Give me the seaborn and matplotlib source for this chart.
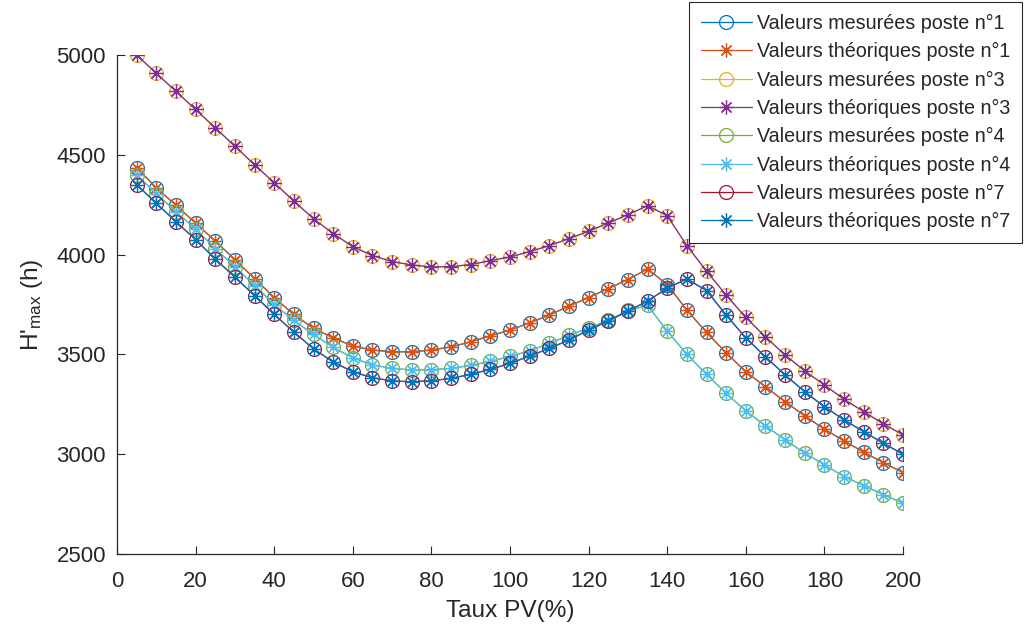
import pandas as pd
import matplotlib
matplotlib.use("Agg")
import matplotlib.pyplot as plt
import seaborn as sns

# Taux PV (%) en abscisse
taux_pv = [5, 10, 15, 20, 25, 30, 35, 40, 45, 50,
           55, 60, 65, 70, 75, 80, 85, 90, 95, 100,
           105, 110, 115, 120, 125, 130, 135, 140, 145, 150,
           155, 160, 165, 170, 175, 180, 185, 190, 195, 200]

mes_p1 = [4435, 4335, 4247, 4158, 4068, 3975, 3880, 3785, 3700, 3630,
          3583, 3542, 3522, 3513, 3513, 3522, 3538, 3563, 3593, 3622,
          3658, 3697, 3742, 3785, 3830, 3875, 3928, 3850, 3722, 3610,
          3508, 3413, 3338, 3263, 3192, 3125, 3067, 3010, 2958, 2908]
mes_p3 = [5000, 4908, 4818, 4727, 4635, 4543, 4450, 4360, 4268, 4180,
          4105, 4040, 3995, 3965, 3948, 3938, 3940, 3950, 3970, 3988,
          4015, 4045, 4080, 4117, 4158, 4200, 4245, 4195, 4045, 3917,
          3797, 3685, 3588, 3497, 3417, 3347, 3275, 3213, 3152, 3097]
mes_p4 = [4400, 4305, 4215, 4128, 4030, 3940, 3845, 3750, 3670, 3600,
          3535, 3483, 3447, 3430, 3422, 3423, 3430, 3445, 3465, 3490,
          3518, 3555, 3595, 3632, 3670, 3720, 3745, 3617, 3500, 3400,
          3305, 3217, 3142, 3072, 3005, 2947, 2888, 2843, 2797, 2755]
mes_p7 = [4350, 4257, 4165, 4075, 3978, 3887, 3795, 3700, 3612, 3528,
          3462, 3413, 3383, 3367, 3363, 3368, 3380, 3400, 3425, 3455,
          3492, 3530, 3572, 3622, 3667, 3717, 3767, 3832, 3878, 3820,
          3697, 3583, 3488, 3397, 3313, 3238, 3172, 3113, 3055, 3000]

# valeurs theoriques : superposees aux mesures sur la figure
theo_p1 = list(mes_p1)
theo_p3 = list(mes_p3)
theo_p4 = list(mes_p4)
theo_p7 = list(mes_p7)

sns.set_style("ticks")
plt.rcParams['font.family'] = ['Liberation Sans', 'DejaVu Sans']
plt.rcParams['mathtext.default'] = 'regular'

dark = '#262626'
star = (8, 2, 0)  # asterisque facon MATLAB

series = [
    ("Valeurs mesurées poste n°1", mes_p1, '#0072BD', 'o'),
    ("Valeurs théoriques poste n°1", theo_p1, '#D95319', star),
    ("Valeurs mesurées poste n°3", mes_p3, '#EDB120', 'o'),
    ("Valeurs théoriques poste n°3", theo_p3, '#7E2F8E', star),
    ("Valeurs mesurées poste n°4", mes_p4, '#77AC30', 'o'),
    ("Valeurs théoriques poste n°4", theo_p4, '#4DBEEE', star),
    ("Valeurs mesurées poste n°7", mes_p7, '#A2142F', 'o'),
    ("Valeurs théoriques poste n°7", theo_p7, '#0072BD', star),
]

fig = plt.figure(figsize=(10.25, 6.29), dpi=100)
ax = fig.add_axes([117 / 1025, 1 - 554 / 629, 786 / 1025, 499 / 629])

for label, vals, color, marker in series:
    df = pd.DataFrame({'taux': taux_pv, 'hmax': vals})
    sns.lineplot(data=df, x='taux', y='hmax', ax=ax, color=color, marker=marker,
                 markersize=10, mfc='none', mec=color, mew=0.9, lw=0.9, label=label)

ax.set_xlim(0, 200)
ax.set_ylim(2500, 5000)
ax.set_xticks(range(0, 201, 20))
ax.set_yticks(range(2500, 5001, 500))
sns.despine(ax=ax)
for side in ['left', 'bottom']:
    ax.spines[side].set_color(dark)
    ax.spines[side].set_linewidth(0.9)
ax.tick_params(direction='in', length=6, width=0.8, labelsize=16, colors=dark, pad=8)
ax.tick_params(axis='x', pad=12)

ax.set_xlabel('Taux PV(%)', fontsize=17.6, color=dark, labelpad=6)
ax.set_ylabel("H'$_{max}$ (h)", fontsize=17.6, color=dark, labelpad=8)

leg = ax.legend(loc='upper right', bbox_to_anchor=(1022 / 1025, 627 / 629),
                bbox_transform=fig.transFigure, fontsize=14.2, frameon=True,
                fancybox=False, edgecolor=dark, framealpha=1, borderaxespad=0,
                handlelength=2.6, handletextpad=0.25, labelspacing=0.47, borderpad=0.6)
leg.get_frame().set_linewidth(0.8)

fig.savefig('out.png', dpi=100)
